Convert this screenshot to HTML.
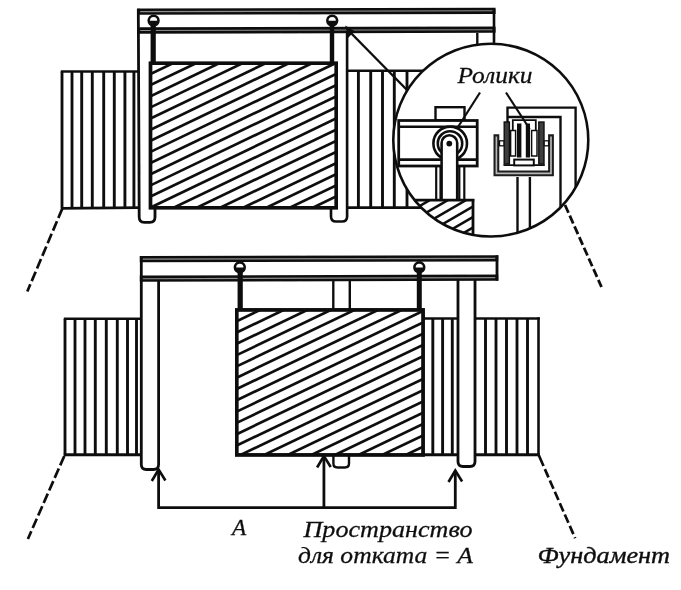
<!DOCTYPE html>
<html lang="ru"><head><meta charset="utf-8"><title>Откатные ворота</title>
<style>html,body{margin:0;padding:0;background:#fff}svg{display:block}text{font-family:"Liberation Serif",serif;font-style:italic;fill:#111;stroke:#111;stroke-width:0.28px}</style>
</head><body>
<svg width="681" height="590" viewBox="0 0 681 590">
<rect width="681" height="590" fill="#fff"/>
<defs>
<filter id="soft" x="0" y="0" width="100%" height="100%" filterUnits="userSpaceOnUse"><feGaussianBlur stdDeviation="0.45"/></filter>
<clipPath id="g1"><rect x="150.5" y="63" width="185.8" height="144.5"/></clipPath>
<clipPath id="g2"><rect x="236.7" y="309.5" width="186.4" height="145.4"/></clipPath>
<clipPath id="cc"><ellipse cx="490.8" cy="140.1" rx="97.0" ry="95.9"/></clipPath>
<clipPath id="blk"><rect x="380" y="200" width="93" height="50"/></clipPath>
</defs>
<g filter="url(#soft)">
<g stroke="#111" fill="none" stroke-linecap="butt">
<line x1="62.0" y1="71.5" x2="62.0" y2="207.5" stroke-width="2.9" />
<line x1="72.0" y1="71.5" x2="72.0" y2="207.5" stroke-width="2.9" />
<line x1="81.7" y1="71.5" x2="81.7" y2="207.5" stroke-width="2.9" />
<line x1="92.3" y1="71.5" x2="92.3" y2="207.5" stroke-width="2.9" />
<line x1="103.7" y1="71.5" x2="103.7" y2="207.5" stroke-width="2.9" />
<line x1="114.3" y1="71.5" x2="114.3" y2="207.5" stroke-width="2.9" />
<line x1="124.9" y1="71.5" x2="124.9" y2="207.5" stroke-width="2.9" />
<line x1="133.9" y1="71.5" x2="133.9" y2="207.5" stroke-width="2.9" />
<line x1="60.8" y1="71.5" x2="139.0" y2="71.5" stroke-width="2.5" />
<line x1="60.8" y1="208.3" x2="139.0" y2="207.7" stroke-width="2.8" />
<line x1="62.3" y1="208.6" x2="27.3" y2="291.5" stroke-width="2.7" stroke-dasharray="10.2 3.5"/>
<line x1="358.4" y1="71.0" x2="358.4" y2="207.5" stroke-width="2.9" />
<line x1="370.7" y1="71.0" x2="370.7" y2="207.5" stroke-width="2.9" />
<line x1="382.5" y1="71.0" x2="382.5" y2="207.5" stroke-width="2.9" />
<line x1="394.3" y1="71.0" x2="394.3" y2="207.5" stroke-width="2.9" />
<line x1="407.0" y1="71.0" x2="407.0" y2="207.5" stroke-width="2.9" />
<line x1="346.0" y1="70.8" x2="430.0" y2="70.8" stroke-width="2.5" />
<line x1="346.0" y1="207.6" x2="430.0" y2="207.6" stroke-width="2.8" />
<line x1="137.2" y1="11.6" x2="495.6" y2="10.8" stroke-width="6.3" />
<line x1="140.2" y1="11.6" x2="492.6" y2="10.8" stroke="#8c8c8c" stroke-width="1.1"/>
<line x1="137.2" y1="30.5" x2="495.6" y2="29.7" stroke-width="6.3" />
<line x1="140.2" y1="30.5" x2="492.6" y2="29.7" stroke="#8c8c8c" stroke-width="1.1"/>
<path d="M138.3 8.7 L139.2 217 Q139.2 222.3 144.2 222.3 H150 Q155 222.3 155 217 V207" stroke-width="2.8"/>
<path d="M331 207 V216.5 Q331 221.5 336 221.5 H342.1 Q347.1 221.5 347.1 216.5 V33" stroke-width="2.6"/>
<line x1="494.0" y1="8.7" x2="494.0" y2="60.0" stroke-width="2.6" />
<line x1="477.3" y1="33.0" x2="477.3" y2="60.0" stroke-width="2.4" />
<line x1="348.0" y1="30.0" x2="407.0" y2="90.0" stroke-width="2.4" />
<path d="M345.3 25.5 L354.5 31 L348 38 Z" fill="#111" stroke="none"/>
<line x1="153.2" y1="24.0" x2="153.2" y2="63.0" stroke-width="5.2" />
<line x1="332.0" y1="24.0" x2="332.0" y2="63.0" stroke-width="4.4" />
<circle cx="153.6" cy="20.6" r="4.9" stroke-width="2.6" fill="#fff"/>
<path d="M149.1 20.8 A4.5 4.5 0 0 0 158.1 20.8 Z" fill="#111" stroke="none"/>
<circle cx="332.2" cy="20.6" r="4.9" stroke-width="2.6" fill="#fff"/>
<path d="M327.7 20.8 A4.5 4.5 0 0 0 336.7 20.8 Z" fill="#111" stroke="none"/>
<rect x="150.5" y="63.3" width="185.8" height="144.4" stroke-width="3.4" fill="#fff"/>
<g clip-path="url(#g1)">
<line x1="150.5" y1="62.8" x2="350.5" y2="-33.2" stroke-width="2.7" />
<line x1="150.5" y1="74.0" x2="350.5" y2="-22.0" stroke-width="2.7" />
<line x1="150.5" y1="85.1" x2="350.5" y2="-10.9" stroke-width="2.7" />
<line x1="150.5" y1="96.2" x2="350.5" y2="0.2" stroke-width="2.7" />
<line x1="150.5" y1="107.4" x2="350.5" y2="11.4" stroke-width="2.7" />
<line x1="150.5" y1="118.5" x2="350.5" y2="22.5" stroke-width="2.7" />
<line x1="150.5" y1="129.7" x2="350.5" y2="33.7" stroke-width="2.7" />
<line x1="150.5" y1="140.8" x2="350.5" y2="44.8" stroke-width="2.7" />
<line x1="150.5" y1="151.9" x2="350.5" y2="55.9" stroke-width="2.7" />
<line x1="150.5" y1="163.1" x2="350.5" y2="67.1" stroke-width="2.7" />
<line x1="150.5" y1="174.2" x2="350.5" y2="78.2" stroke-width="2.7" />
<line x1="150.5" y1="185.4" x2="350.5" y2="89.4" stroke-width="2.7" />
<line x1="150.5" y1="196.5" x2="350.5" y2="100.5" stroke-width="2.7" />
<line x1="150.5" y1="207.6" x2="350.5" y2="111.6" stroke-width="2.7" />
<line x1="150.5" y1="218.8" x2="350.5" y2="122.8" stroke-width="2.7" />
<line x1="150.5" y1="229.9" x2="350.5" y2="133.9" stroke-width="2.7" />
<line x1="150.5" y1="241.1" x2="350.5" y2="145.1" stroke-width="2.7" />
<line x1="150.5" y1="252.2" x2="350.5" y2="156.2" stroke-width="2.7" />
<line x1="150.5" y1="263.3" x2="350.5" y2="167.3" stroke-width="2.7" />
<line x1="150.5" y1="274.5" x2="350.5" y2="178.5" stroke-width="2.7" />
<line x1="150.5" y1="285.6" x2="350.5" y2="189.6" stroke-width="2.7" />
<line x1="150.5" y1="296.8" x2="350.5" y2="200.8" stroke-width="2.7" />
<line x1="150.5" y1="307.9" x2="350.5" y2="211.9" stroke-width="2.7" />
<line x1="150.5" y1="319.0" x2="350.5" y2="223.0" stroke-width="2.7" />
<line x1="150.5" y1="330.2" x2="350.5" y2="234.2" stroke-width="2.7" />
<line x1="150.5" y1="341.3" x2="350.5" y2="245.3" stroke-width="2.7" />
</g>
<rect x="150.5" y="63.3" width="185.8" height="144.4" stroke-width="3.4"/>
<line x1="65.0" y1="319.0" x2="65.0" y2="455.0" stroke-width="2.9" />
<line x1="75.0" y1="319.0" x2="75.0" y2="455.0" stroke-width="2.9" />
<line x1="85.0" y1="319.0" x2="85.0" y2="455.0" stroke-width="2.9" />
<line x1="95.3" y1="319.0" x2="95.3" y2="455.0" stroke-width="2.9" />
<line x1="106.3" y1="319.0" x2="106.3" y2="455.0" stroke-width="2.9" />
<line x1="117.3" y1="319.0" x2="117.3" y2="455.0" stroke-width="2.9" />
<line x1="127.5" y1="319.0" x2="127.5" y2="455.0" stroke-width="2.9" />
<line x1="136.5" y1="319.0" x2="136.5" y2="455.0" stroke-width="2.9" />
<line x1="63.8" y1="318.8" x2="142.0" y2="318.8" stroke-width="2.5" />
<line x1="63.8" y1="454.7" x2="142.0" y2="454.7" stroke-width="2.9" />
<line x1="64.3" y1="456.0" x2="27.9" y2="539.0" stroke-width="2.7" stroke-dasharray="10.2 3.5"/>
<line x1="432.8" y1="319.0" x2="432.8" y2="455.0" stroke-width="2.9" />
<line x1="442.6" y1="319.0" x2="442.6" y2="455.0" stroke-width="2.9" />
<line x1="452.3" y1="319.0" x2="452.3" y2="455.0" stroke-width="2.9" />
<line x1="485.5" y1="319.0" x2="485.5" y2="455.0" stroke-width="2.9" />
<line x1="496.0" y1="319.0" x2="496.0" y2="455.0" stroke-width="2.9" />
<line x1="506.5" y1="319.0" x2="506.5" y2="455.0" stroke-width="2.9" />
<line x1="517.0" y1="319.0" x2="517.0" y2="455.0" stroke-width="2.9" />
<line x1="527.5" y1="319.0" x2="527.5" y2="455.0" stroke-width="2.9" />
<line x1="538.5" y1="317.3" x2="538.5" y2="456.0" stroke-width="2.6" />
<line x1="422.0" y1="318.5" x2="539.8" y2="318.5" stroke-width="2.5" />
<line x1="422.0" y1="454.8" x2="539.8" y2="454.8" stroke-width="3.0" />
<line x1="538.7" y1="455.0" x2="575.2" y2="538.3" stroke-width="2.7" stroke-dasharray="12 3.4 9 3.4 9 3.4 9 3.4 9 3.4 9 3.4 9 3.4"/>
<path d="M141.3 256 V464.5 Q141.3 469.5 146.3 469.5 H153.6 Q158.6 469.5 158.6 464.5 V280" stroke-width="2.8" fill="#fff"/>
<path d="M458 280 V461.5 Q458 466.5 463 466.5 H470 Q475 466.5 475 461.5 V280" stroke-width="2.8" fill="#fff"/>
<line x1="139.8" y1="259.1" x2="498.3" y2="258.4" stroke-width="6.4" />
<line x1="142.8" y1="259.1" x2="495.3" y2="258.4" stroke="#8c8c8c" stroke-width="1.1"/>
<line x1="139.8" y1="278.7" x2="498.3" y2="277.6" stroke-width="6.2" />
<line x1="142.8" y1="278.7" x2="495.3" y2="277.6" stroke="#8c8c8c" stroke-width="1.1"/>
<line x1="497.0" y1="255.3" x2="497.0" y2="280.7" stroke-width="2.8" />
<line x1="333.3" y1="280.0" x2="333.3" y2="309.0" stroke-width="2.4" />
<line x1="349.8" y1="280.0" x2="349.8" y2="309.0" stroke-width="2.4" />
<path d="M333.4 455 V463.5 Q333.4 467.5 337.4 467.5 H345 Q349 467.5 349 463.5 V455" stroke-width="2.4"/>
<line x1="240.2" y1="271.0" x2="240.2" y2="310.0" stroke-width="5.2" />
<line x1="419.3" y1="271.0" x2="419.3" y2="310.0" stroke-width="5.0" />
<circle cx="239.8" cy="267.3" r="4.9" stroke-width="2.6" fill="#fff"/>
<path d="M235.3 267.5 A4.5 4.5 0 0 0 244.3 267.5 Z" fill="#111" stroke="none"/>
<circle cx="419.3" cy="267.3" r="4.9" stroke-width="2.6" fill="#fff"/>
<path d="M414.8 267.5 A4.5 4.5 0 0 0 423.8 267.5 Z" fill="#111" stroke="none"/>
<rect x="236.7" y="309.9" width="186.4" height="145" stroke-width="3.4" fill="#fff"/>
<g clip-path="url(#g2)">
<line x1="236.7" y1="298.6" x2="436.7" y2="202.8" stroke-width="2.7" />
<line x1="236.7" y1="309.9" x2="436.7" y2="214.1" stroke-width="2.7" />
<line x1="236.7" y1="321.2" x2="436.7" y2="225.4" stroke-width="2.7" />
<line x1="236.7" y1="332.5" x2="436.7" y2="236.7" stroke-width="2.7" />
<line x1="236.7" y1="343.8" x2="436.7" y2="248.0" stroke-width="2.7" />
<line x1="236.7" y1="355.1" x2="436.7" y2="259.3" stroke-width="2.7" />
<line x1="236.7" y1="366.4" x2="436.7" y2="270.6" stroke-width="2.7" />
<line x1="236.7" y1="377.7" x2="436.7" y2="281.9" stroke-width="2.7" />
<line x1="236.7" y1="389.0" x2="436.7" y2="293.2" stroke-width="2.7" />
<line x1="236.7" y1="400.3" x2="436.7" y2="304.5" stroke-width="2.7" />
<line x1="236.7" y1="411.6" x2="436.7" y2="315.8" stroke-width="2.7" />
<line x1="236.7" y1="422.9" x2="436.7" y2="327.1" stroke-width="2.7" />
<line x1="236.7" y1="434.2" x2="436.7" y2="338.4" stroke-width="2.7" />
<line x1="236.7" y1="445.5" x2="436.7" y2="349.7" stroke-width="2.7" />
<line x1="236.7" y1="456.8" x2="436.7" y2="361.0" stroke-width="2.7" />
<line x1="236.7" y1="468.1" x2="436.7" y2="372.3" stroke-width="2.7" />
<line x1="236.7" y1="479.4" x2="436.7" y2="383.6" stroke-width="2.7" />
<line x1="236.7" y1="490.7" x2="436.7" y2="394.9" stroke-width="2.7" />
<line x1="236.7" y1="502.0" x2="436.7" y2="406.2" stroke-width="2.7" />
<line x1="236.7" y1="513.3" x2="436.7" y2="417.5" stroke-width="2.7" />
<line x1="236.7" y1="524.6" x2="436.7" y2="428.8" stroke-width="2.7" />
<line x1="236.7" y1="535.9" x2="436.7" y2="440.1" stroke-width="2.7" />
<line x1="236.7" y1="547.2" x2="436.7" y2="451.4" stroke-width="2.7" />
<line x1="236.7" y1="558.5" x2="436.7" y2="462.7" stroke-width="2.7" />
<line x1="236.7" y1="569.8" x2="436.7" y2="474.0" stroke-width="2.7" />
<line x1="236.7" y1="581.1" x2="436.7" y2="485.3" stroke-width="2.7" />
</g>
<rect x="236.7" y="309.9" width="186.4" height="145" stroke-width="3.4"/>
<path d="M158.6 470 V507.7 H455.3 V471" stroke-width="2.8" stroke-linejoin="miter"/>
<line x1="323.9" y1="456.0" x2="323.9" y2="507.7" stroke-width="2.8" />
<path d="M151.79999999999998 481.0 L158.6 469.5 L165.4 480.5" stroke-width="2.6" stroke-linejoin="miter"/>
<path d="M317.09999999999997 467.5 L323.9 456 L330.7 467" stroke-width="2.6" stroke-linejoin="miter"/>
<path d="M448.5 482.0 L455.3 470.5 L462.1 481.5" stroke-width="2.6" stroke-linejoin="miter"/>
<ellipse cx="490.8" cy="140.1" rx="97.5" ry="96.4" fill="#fff" stroke="none"/>
<g clip-path="url(#cc)">
<rect x="435.5" y="107.2" width="29" height="13" stroke-width="2.4"/>
<rect x="398.7" y="120.5" width="78.5" height="45.5" stroke-width="2.8" fill="#fff"/>
<line x1="399.0" y1="126.8" x2="477.0" y2="126.8" stroke-width="2.6" />
<line x1="399.0" y1="159.6" x2="477.0" y2="159.6" stroke-width="2.6" />
<circle cx="450.2" cy="143.4" r="16.8" stroke-width="2.6" fill="#fff"/>
<circle cx="450" cy="143.4" r="12.2" stroke-width="2.6"/>
<line x1="436.2" y1="166.0" x2="436.2" y2="200.0" stroke-width="2.2" />
<line x1="440.5" y1="166.0" x2="440.5" y2="200.0" stroke-width="2.2" />
<line x1="459.3" y1="166.0" x2="459.3" y2="200.0" stroke-width="2.2" />
<line x1="464.3" y1="166.0" x2="464.3" y2="200.0" stroke-width="2.2" />
<path d="M441.6 200 V143 A7.8 7.8 0 0 1 457.2 143 V200" stroke-width="2.6" fill="#fff"/>
<circle cx="449.3" cy="143.6" r="2.9" fill="#111" stroke="none"/>
<g clip-path="url(#blk)">
<line x1="380.0" y1="208.0" x2="480.0" y2="150.0" stroke-width="2.5" />
<line x1="380.0" y1="218.5" x2="480.0" y2="160.5" stroke-width="2.5" />
<line x1="380.0" y1="229.0" x2="480.0" y2="171.0" stroke-width="2.5" />
<line x1="380.0" y1="239.5" x2="480.0" y2="181.5" stroke-width="2.5" />
<line x1="380.0" y1="250.0" x2="480.0" y2="192.0" stroke-width="2.5" />
<line x1="380.0" y1="260.5" x2="480.0" y2="202.5" stroke-width="2.5" />
<line x1="380.0" y1="271.0" x2="480.0" y2="213.0" stroke-width="2.5" />
<line x1="380.0" y1="281.5" x2="480.0" y2="223.5" stroke-width="2.5" />
<line x1="380.0" y1="292.0" x2="480.0" y2="234.0" stroke-width="2.5" />
<line x1="380.0" y1="302.5" x2="480.0" y2="244.5" stroke-width="2.5" />
<line x1="380.0" y1="313.0" x2="480.0" y2="255.0" stroke-width="2.5" />
<line x1="380.0" y1="323.5" x2="480.0" y2="265.5" stroke-width="2.5" />
</g>
<line x1="395.0" y1="200.2" x2="474.3" y2="200.2" stroke-width="2.8" />
<line x1="473.0" y1="199.0" x2="473.0" y2="240.0" stroke-width="2.8" />
<path d="M507.5 135 V107.6 H575.6 V200" stroke-width="2.4"/>
<path d="M507.5 117 H560.5 V215" stroke-width="2.4"/>
<path d="M496.4 134.3 V173.4 H551.0 V134.3" stroke-width="5.8" stroke="#1c1c1c"/>
<path d="M496.4 136.6 V173.4 H551.0 V136.6" stroke-width="1.7" stroke="#b8b8b8"/>
<rect x="504.2" y="122" width="5.2" height="42" stroke-width="1.4" fill="#3c3c3c"/>
<rect x="538.8" y="122" width="5.2" height="42" stroke-width="1.4" fill="#3c3c3c"/>
<rect x="517" y="123.5" width="4.4" height="34" fill="#111" stroke="none"/>
<rect x="525.8" y="123.5" width="4.2" height="34" fill="#111" stroke="none"/>
<rect x="510.6" y="130.5" width="5" height="25.5" stroke-width="1.5"/>
<rect x="531.6" y="130.5" width="5.4" height="25.5" stroke-width="1.5"/>
<path d="M512.8 131 V120.2 H535.8 V131" stroke-width="1.8"/>
<line x1="503.5" y1="165.2" x2="544.8" y2="165.2" stroke-width="1.8" />
<rect x="514.2" y="159.6" width="19.6" height="5.8" stroke-width="2" fill="#fff"/>
<rect x="499.5" y="140.8" width="4.4" height="5" stroke-width="1.3" fill="#fff"/>
<rect x="544.2" y="140.8" width="4.4" height="5" stroke-width="1.3" fill="#fff"/>
<line x1="517.5" y1="177.0" x2="517.5" y2="240.0" stroke-width="2.4" />
<line x1="529.9" y1="177.0" x2="529.9" y2="240.0" stroke-width="2.4" />
<line x1="480.0" y1="92.5" x2="458.0" y2="127.0" stroke-width="2.2" />
<line x1="506.0" y1="92.5" x2="529.7" y2="129.0" stroke-width="2.2" />
</g>
<ellipse cx="490.8" cy="140.1" rx="97.5" ry="96.4" stroke-width="2.6"/>
<line x1="565.0" y1="205.0" x2="601.5" y2="287.0" stroke-width="2.8" stroke-dasharray="8.5 3.2"/>
</g>
<text x="457.5" y="82.6" font-size="24" textLength="75" lengthAdjust="spacingAndGlyphs">Ролики</text>
<text x="232" y="535" font-size="23.5" textLength="14.2" lengthAdjust="spacingAndGlyphs">А</text>
<text x="303.5" y="537.3" font-size="22.5" textLength="169" lengthAdjust="spacingAndGlyphs">Пространство</text>
<text x="298" y="562.5" font-size="22.5" textLength="175" lengthAdjust="spacingAndGlyphs">для отката = А</text>
<text x="537.5" y="562.6" font-size="24" style="stroke-width:0.4px" textLength="132.5" lengthAdjust="spacingAndGlyphs">Фундамент</text>
</g>
</svg></body></html>
